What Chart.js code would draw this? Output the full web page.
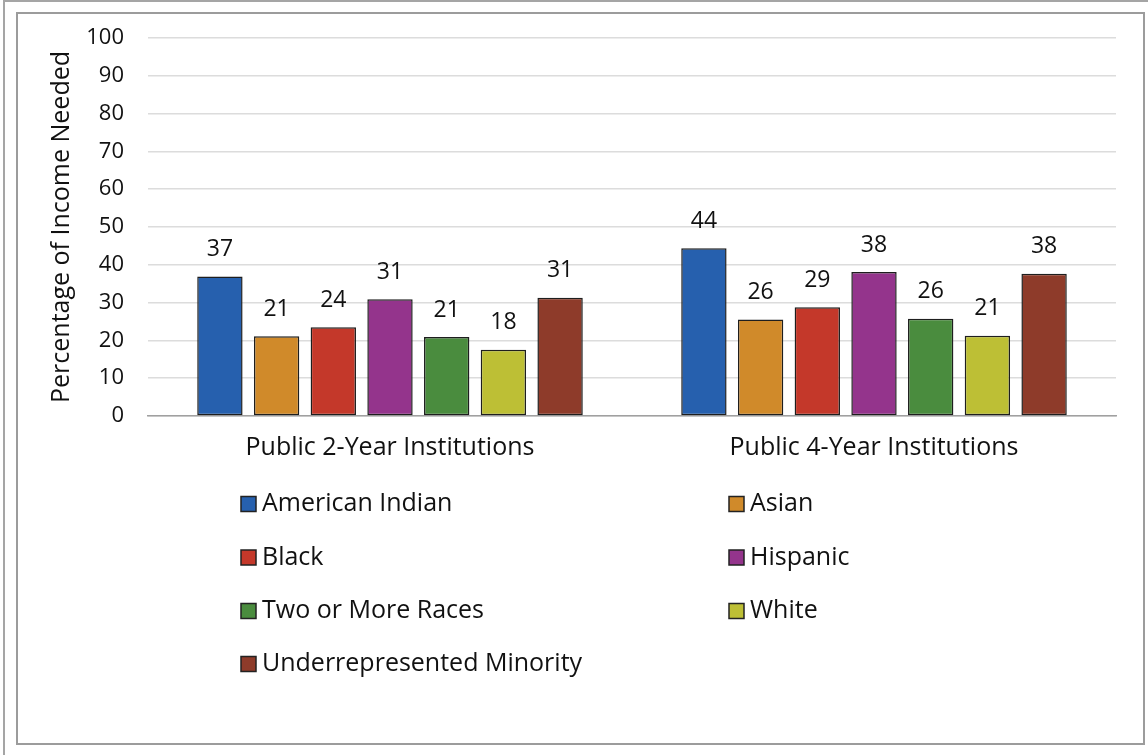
<!DOCTYPE html>
<html>
<head>
<meta charset="utf-8">
<script src="https://cdn.jsdelivr.net/npm/chart.js@4.4.1/dist/chart.umd.min.js"></script>
<style>
  html, body { margin: 0; padding: 0; background: #fff; }
  body { width: 1148px; height: 755px; position: relative; overflow: hidden; }
  .outer { position: absolute; left: 3px; top: 0; width: 1145px; height: 755px;
           border-top: 2px solid #a5a5a5; border-left: 2px solid #a5a5a5; box-sizing: border-box; }
  .inner { position: absolute; left: 16px; top: 12px; width: 1129px; height: 733px;
           border: 2px solid #9c9c9c; box-sizing: border-box; }
  #chart { position: absolute; left: 0; top: 0; }
</style>
</head>
<body>
<div class="outer"></div>
<div class="inner"></div>
<canvas id="chart" width="1148" height="755"></canvas>
<script>
const categories = ["Public 2-Year Institutions", "Public 4-Year Institutions"];
const groups = [
  "American Indian",
  "Asian",
  "Black",
  "Hispanic",
  "Two or More Races",
  "White",
  "Underrepresented Minority",
];
const americanIndian = [36.9, 44.4];
const asian = [21.1, 25.5];
const black = [23.5, 28.8];
const hispanic = [30.9, 38.1];
const twoOrMore = [20.9, 25.7];
const white = [17.5, 21.2];
const underrepresented = [31.3, 37.6];
const yTicks = [0, 10, 20, 30, 40, 50, 60, 70, 80, 90, 100];

const seriesValues = [americanIndian, asian, black, hispanic, twoOrMore, white, underrepresented];
const colors = ["#2660ae", "#d08a2a", "#c4382a", "#94348c", "#4a8c3e", "#bdbf35", "#8e3b2a"];

const FONT = "'Open Sans', sans-serif";
const TEXT = "#111111";

// value labels above each bar
const barLabels = {
  id: "barLabels",
  afterDatasetsDraw(chart) {
    const ctx = chart.ctx;
    ctx.save();
    ctx.font = "23px " + FONT;
    ctx.fillStyle = TEXT;
    ctx.textAlign = "center";
    ctx.textBaseline = "middle";
    chart.data.datasets.forEach(function (ds, i) {
      chart.getDatasetMeta(i).data.forEach(function (bar, j) {
        ctx.fillText(Math.round(ds.data[j]), bar.x, bar.y - 27);
      });
    });
    ctx.restore();
  },
};

// two-column legend under the axis
const gridLegend = {
  id: "gridLegend",
  afterDraw(chart) {
    const ctx = chart.ctx;
    const colX = [241, 729];
    const rowY = [504, 557.5, 611, 664];
    ctx.save();
    ctx.font = "25px " + FONT;
    ctx.textBaseline = "middle";
    ctx.textAlign = "left";
    chart.data.datasets.forEach(function (ds, i) {
      const x = colX[i % 2];
      const y = rowY[Math.floor(i / 2)];
      ctx.fillStyle = ds.backgroundColor;
      ctx.fillRect(x, y - 7.5, 15, 15);
      ctx.strokeStyle = "#222";
      ctx.lineWidth = 1.5;
      ctx.strokeRect(x, y - 7.5, 15, 15);
      ctx.fillStyle = TEXT;
      ctx.fillText(ds.label, x + 21, y);
    });
    ctx.restore();
  },
};

const data = {
  labels: categories,
  datasets: groups.map(function (name, i) {
    return {
      label: name,
      data: seriesValues[i],
      backgroundColor: colors[i],
      borderColor: "#1e1e1e",
      borderWidth: 1.5,
      borderSkipped: false,
      barPercentage: 0.8,
      categoryPercentage: 0.82,
    };
  }),
};

const config = {
  type: "bar",
  data,
  options: {
    responsive: false,
    animation: false,
    events: [],
    layout: { padding: { left: 43, top: 38, right: 32, bottom: 279 } },
    plugins: {
      legend: { display: false },
      tooltip: { enabled: false },
    },
    scales: {
      x: {
        grid: { display: false, drawTicks: false },
        border: { display: true, color: "#a0a0a0", width: 1.5 },
        ticks: { color: TEXT, font: { family: FONT, size: 25 }, padding: 17 },
        afterFit: function (scale) { scale.height = 60; },
      },
      y: {
        min: 0,
        max: 100,
        afterBuildTicks: function (scale) {
          scale.ticks = yTicks.map(function (v) { return { value: v }; });
        },
        grid: { color: "#dcdcdc", lineWidth: 1.5, drawTicks: false },
        border: { display: false },
        ticks: { color: TEXT, font: { family: FONT, size: 22 }, padding: 24 },
        title: {
          display: true,
          text: "Percentage of Income Needed",
          color: TEXT,
          font: { family: FONT, size: 25 },
        },
        afterFit: function (scale) { scale.width = 105; },
      },
    },
  },
  plugins: [barLabels, gridLegend],
};

const myChart = new Chart(document.getElementById("chart"), config);
</script>
</body>
</html>
